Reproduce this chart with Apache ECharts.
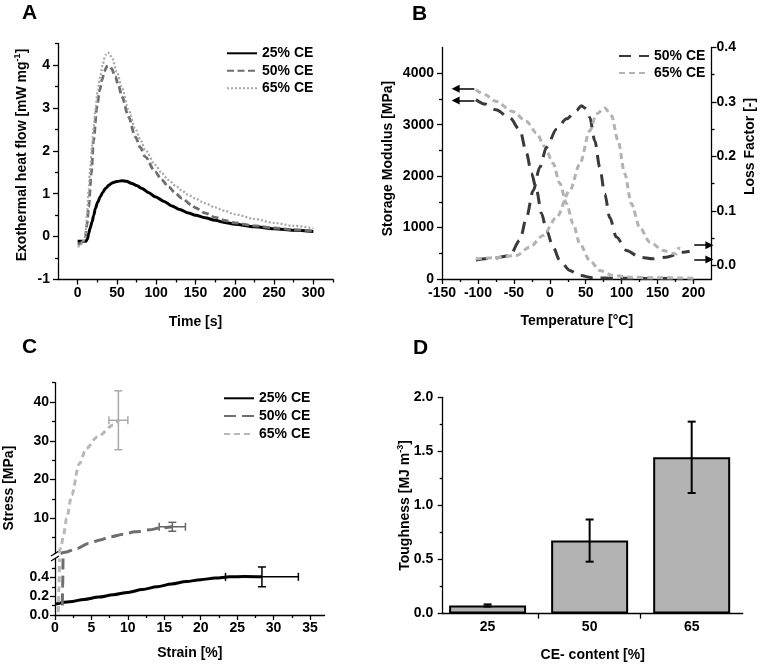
<!DOCTYPE html>
<html><head><meta charset="utf-8">
<script src="https://cdn.jsdelivr.net/npm/echarts@6/dist/echarts.min.js"></script>
<style>html,body{margin:0;padding:0;background:#fff}#c{width:764px;height:666px}</style>
</head><body><div id="c"></div>
<script>
const FONT = "'Liberation Sans', Arial, Helvetica, sans-serif";
const TXT = {color:'#000', fontFamily:FONT, fontWeight:'bold', fontSize:14};

// ---------- Panel A : exothermal heat flow vs time ----------
const aXMajor = [0,50,100,150,200,250,300];
const aXMinor = [25,75,125,175,225,275,325];
const aYMajor = [-1,0,1,2,3,4];
const aYMinor = [-0.5,0.5,1.5,2.5,3.5,4.5];
const a25 = [[0,-0.11],[5,-0.11],[10.6,-0.11],[12.5,-0.05],[14,0.07],[16,0.2],[18.3,0.34],[20.5,0.5],[22.5,0.65],[25.5,0.8],[28.8,0.93],[32,1.03],[35.2,1.12],[40,1.2],[43.7,1.25],[50,1.285],[56.4,1.3],[62,1.29],[69.1,1.24],[75,1.19],[81.9,1.12],[90,1.03],[98.8,0.93],[110,0.82],[120,0.715],[130,0.63],[141,0.55],[150,0.5],[162,0.44],[175,0.38],[187,0.33],[200,0.29],[225,0.23],[250,0.185],[275,0.15],[300,0.12]];
const a50 = [[0,-0.18],[3,-0.17],[6,-0.12],[9.7,-0.05],[12,0.3],[14,0.69],[17.4,1.47],[20.3,2.25],[24.6,3.03],[28,3.4],[31,3.65],[34,3.85],[37.4,3.97],[40,3.98],[43,3.92],[47.9,3.73],[52,3.52],[56.4,3.26],[64.8,2.79],[73.3,2.33],[80,2.07],[86,1.86],[98.8,1.51],[107,1.32],[115.7,1.16],[125,1.0],[132.7,0.89],[145.4,0.73],[150,0.67],[162,0.55],[175,0.45],[187,0.38],[200,0.32],[225,0.25],[250,0.2],[275,0.16],[300,0.13]];
const a65 = [[0,-0.23],[3,-0.22],[6,-0.15],[9.7,0.0],[12,0.5],[14,1.08],[16,1.6],[18.3,2.09],[20.5,2.55],[22.5,2.95],[25.5,3.4],[28.8,3.73],[32,4.02],[35.2,4.23],[38.6,4.29],[41,4.25],[43.7,4.16],[50,3.84],[56.4,3.46],[64.8,2.95],[73.3,2.52],[80,2.25],[86,2.02],[98.8,1.67],[107,1.48],[115.7,1.32],[125,1.18],[132.7,1.07],[140,0.98],[149.5,0.89],[162,0.78],[175,0.68],[187,0.6],[200,0.52],[225,0.41],[250,0.32],[275,0.25],[300,0.19]];

// ---------- Panel B : DMA ----------
const bXMajor = [-150,-100,-50,0,50,100,150,200];
const bXMinor = [-125,-75,-25,25,75,125,175];
const bYLMajor = [0,1000,2000,3000,4000];
const bYLMinor = [500,1500,2500,3500];
const bYRMajor = [0,0.1,0.2,0.3,0.4];
const bYRMinor = [0.05,0.15,0.25,0.35];
const bStorage50 = [[-102.8,3486],[-90,3400],[-75,3290],[-55.6,3130],[-41.7,2900],[-32.4,2445],[-25.5,2055],[-18.5,1730],[-11.5,1273],[-4.6,947],[4.6,620],[13.9,361],[27.8,166],[41.7,68],[60,23],[92.6,16],[130,10],[175,8]];
const bStorage65 = [[-102.8,3682],[-90,3580],[-75,3453],[-51.9,3258],[-32.4,3063],[-18.5,2836],[-7,2574],[4.6,2250],[13.9,1859],[23.2,1469],[32.4,1078],[41.7,688],[55.6,361],[69.5,166],[88,68],[111,35],[150,25],[200,15]];
const bLoss50 = [[-102.8,0.010],[-80,0.013],[-55.6,0.018],[-41.7,0.046],[-32.4,0.088],[-23.2,0.137],[-13.9,0.18],[-4.6,0.217],[9.3,0.25],[23.2,0.269],[37,0.284],[44,0.293],[50,0.288],[55.6,0.272],[62.6,0.229],[69.5,0.18],[76.5,0.131],[83.4,0.088],[92.7,0.052],[106.7,0.0275],[125,0.015],[143.7,0.012],[162,0.015],[185,0.024],[194.6,0.026]];
const bLoss65 = [[-102.8,0.012],[-75,0.014],[-46.4,0.018],[-27.8,0.0335],[-9.3,0.055],[9.3,0.088],[27.8,0.137],[41.7,0.186],[55.6,0.247],[64.9,0.278],[76.5,0.289],[85.8,0.275],[95,0.229],[104.3,0.168],[113.6,0.113],[125,0.07],[139,0.043],[157.6,0.0275],[172,0.022],[176,0.021],[180,0.034]];
const bArrowStorage = [3700, 3470];
const bArrowLoss = [0.037, 0.011];

// ---------- Panel C : stress-strain ----------
const cXMajor = [0,5,10,15,20,25,30,35];
const cXMinor = [2.5,7.5,12.5,17.5,22.5,27.5,32.5];
const cYLowMajor = [0,0.2,0.4];
const cYLowMinor = [0.1,0.3,0.5];
const cYUpMajor = [10,20,30,40];
const cYUpMinor = [5,15,25,35,45];
const c25 = [[0.14,0.117],[2,0.14],[4,0.165],[6,0.19],[8,0.215],[10,0.24],[12,0.27],[14,0.3],[16,0.33],[18,0.355],[20,0.375],[22,0.392],[24,0.405],[26,0.41],[28.4,0.405]];
const c50Low = [[1.0,0.1],[1.05,0.3],[1.1,0.6]];
const c50Up = [[0.75,0.9],[1.4,1.2],[3.0,2.2],[4.6,3.5],[6.2,4.4],[7.6,5.2],[9.4,5.9],[11,6.5],[13,7.0],[14.4,7.5],[16.1,7.8]];
const c65Low = [[0.45,0.03],[0.55,0.3],[0.62,0.6]];
const c65Up = [[0.6,0.9],[0.85,3],[1.14,5.3],[1.6,10],[2.3,16],[3.3,24],[4.3,28],[5.8,31],[8.0,34.1],[8.7,35.3]];
const cErr25 = [[28.4,0.405,5,0.105]];
const cErr50 = [[16.1,7.8,1.8,1.15]];
const cErr65 = [[8.7,35.3,1.3,7.6]];

// ---------- Panel D : toughness ----------
const dCategories = ['25','50','65'];
const dValues = [0.075,0.675,1.445];
const dErrors = [0.01,0.195,0.33];
const dYMajor = [0,0.5,1.0,1.5,2.0];
const dYMinor = [0.25,0.75,1.25,1.75];

const legendLabels = {A25:'25% CE',A50:'50% CE',A65:'65% CE',B50:'50% CE',B65:'65% CE',C25:'25% CE',C50:'50% CE',C65:'65% CE'};

const xAxis = [], yAxis = [];
const AX_LINE = {color:'#000', width:1.3};
function addAxis(list, o) {
  list.push({
    type:'value', gridIndex:o.grid, min:o.min, max:o.max, position:o.pos, show:o.show !== false,
    axisLine:{show:true, onZero:false, lineStyle:AX_LINE},
    axisTick:{show:true, length:5, customValues:o.ticks || o.major, lineStyle:AX_LINE},
    axisLabel:Object.assign({show:true, customValues:o.major, margin:o.margin, lineHeight:16,
      formatter:o.fmt || (v => String(v))}, TXT),
    splitLine:{show:false}, minorTick:{show:false},
    name:o.name || '', nameLocation:'middle', nameGap:o.nameGap || 0, nameMoveOverlap:false,
    nameTextStyle:Object.assign({}, TXT, {lineHeight:16}, o.nameStyle || {}),
    axisPointer:{show:false}
  });
  const idx = list.length - 1;
  if (o.minor && o.show !== false) {
    list.push({type:'value', gridIndex:o.grid, min:o.min, max:o.max, position:o.pos,
      axisLine:{show:false, onZero:false},
      axisTick:{show:true, length:3, customValues:o.minor, lineStyle:AX_LINE},
      axisLabel:{show:false}, splitLine:{show:false}, axisPointer:{show:false}});
  }
  return idx;
}
const f1 = v => v.toFixed(1);
const supRich = {
  s:{fontSize:9, lineHeight:10, verticalAlign:'top', fontWeight:'bold', fontFamily:FONT, color:'#000'}
};

// axes A
const axA = addAxis(xAxis, {grid:0, min:-25, max:325, pos:'bottom', major:aXMajor, minor:aXMinor, margin:5.8, name:'Time [s]', nameGap:34.5});
const ayA = addAxis(yAxis, {grid:0, min:-1, max:4.5, pos:'left', major:aYMajor, minor:aYMinor, margin:8,
  name:'Exothermal heat flow [mW mg{s|-1}]', nameGap:27.3, nameStyle:{lineHeight:18, padding:[0,0,0,13], rich:supRich}});
// axes B
const axB = addAxis(xAxis, {grid:1, min:-150, max:225, pos:'bottom', major:bXMajor, minor:bXMinor, margin:6.3, name:'Temperature [°C]', nameGap:34.4});
const ayBL = addAxis(yAxis, {grid:1, min:0, max:4500, pos:'left', major:bYLMajor, minor:bYLMinor, margin:8,
  name:'Storage Modulus [MPa]', nameGap:45.7, nameStyle:{padding:[0,0,0,9.5]}});
const ayBR = addAxis(yAxis, {grid:1, min:-0.025, max:0.4, pos:'right', major:bYRMajor, minor:bYRMinor, margin:5, fmt:f1,
  name:'Loss Factor [-]', nameGap:30.5, nameStyle:{padding:[0,0,0,33.5]}});
// axes C
const axCU = addAxis(xAxis, {grid:2, min:0, max:37, pos:'bottom', major:cXMajor, show:false});
const ayCU = addAxis(yAxis, {grid:2, min:0.9, max:45, pos:'left', major:cYUpMajor, minor:cYUpMinor, margin:6,
  name:'Stress [MPa]', nameGap:37.8, nameStyle:{padding:[0,40,0,0]}});
const axCL = addAxis(xAxis, {grid:3, min:0, max:37, pos:'bottom', major:cXMajor, minor:cXMinor, margin:5.3, name:'Strain [%]', nameGap:29.7});
const ayCL = addAxis(yAxis, {grid:3, min:0, max:0.6, pos:'left', major:cYLowMajor, minor:cYLowMinor, margin:6, fmt:f1});
// axes D
const axD = addAxis(xAxis, {grid:4, min:0.56, max:3.5, pos:'bottom', major:[1,2,3], ticks:[1.5,2.5], margin:5.7,
  fmt:v => dCategories[Math.round(v) - 1], name:'CE- content [%]', nameGap:33.4});
const ayD = addAxis(yAxis, {grid:4, min:0, max:2, pos:'left', major:dYMajor, minor:dYMinor, margin:9.5, fmt:f1,
  name:'Toughness [MJ m{s|-3}]', nameGap:28.7, nameStyle:{lineHeight:18, rich:supRich}});

function line(name, xi, yi, data, color, width, type, extra) {
  return Object.assign({type:'line', name, xAxisIndex:xi, yAxisIndex:yi, data, symbol:'none',
    smooth:0.3, smoothMonotone:'x', silent:true,
    lineStyle:{color, width, type, cap:'butt'}, itemStyle:{color}}, extra || {});
}
function errBars(name, xi, yi, data, color, width, cap) {
  return {type:'custom', name, xAxisIndex:xi, yAxisIndex:yi, data, silent:true, z:5,
    renderItem(params, api) {
      const x = api.value(0), y = api.value(1), ex = api.value(2), ey = api.value(3);
      const st = {stroke:color, lineWidth:width, fill:null};
      const ch = [];
      const L = (x1,y1,x2,y2) => ch.push({type:'line', shape:{x1,y1,x2,y2}, style:st});
      if (ey) {
        const t = api.coord([x, y + ey]), b = api.coord([x, y - ey]);
        L(t[0], t[1], b[0], b[1]); L(t[0]-cap, t[1], t[0]+cap, t[1]); L(b[0]-cap, b[1], b[0]+cap, b[1]);
      }
      if (ex) {
        const l = api.coord([x - ex, y]), r = api.coord([x + ex, y]);
        L(l[0], l[1], r[0], r[1]); L(l[0], l[1]-cap, l[0], l[1]+cap); L(r[0], r[1]-cap, r[0], r[1]+cap);
      }
      return {type:'group', children:ch};
    }};
}
const arrowML = (vals, x1, x2) => ({silent:true, symbol:['none','triangle'], symbolSize:8,
  itemStyle:{color:'#000'},
  lineStyle:{color:'#000', width:1.5, type:'solid'}, label:{show:false}, animation:false,
  data:vals.map(v => [{coord:[x1, v]}, {coord:[x2, v]}])});

const series = [
  line('A25', axA, ayA, a25, '#000', 3, 'solid'),
  line('A50', axA, ayA, a50, '#6e6e6e', 2.8, [7,3.5]),
  line('A65', axA, ayA, a65, '#a8a8a8', 2.2, [2,2]),

  line('B50', axB, ayBL, bStorage50, '#3a3a3a', 3, [12,8], {markLine:arrowML(bArrowStorage, -105, -131)}),
  line('B65', axB, ayBL, bStorage65, '#b3b3b3', 3, [6,4]),
  line('B50', axB, ayBR, bLoss50, '#3a3a3a', 3, [12,8], {markLine:arrowML(bArrowLoss, 201, 222)}),
  line('B65', axB, ayBR, bLoss65, '#b3b3b3', 3, [6,4]),

  line('C25', axCL, ayCL, c25, '#000', 3, 'solid'),
  line('C50', axCU, ayCU, c50Up, '#6e6e6e', 3, [12,6]),
  line('C50', axCL, ayCL, c50Low, '#6e6e6e', 3, [12,6]),
  line('C65', axCU, ayCU, c65Up, '#b8b8b8', 3, [6,4]),
  line('C65', axCL, ayCL, c65Low, '#b8b8b8', 3, [6,4]),
  errBars('eC25', axCL, ayCL, cErr25, '#000', 1.5, 4),
  errBars('eC50', axCU, ayCU, cErr50, '#666', 1.5, 4),
  errBars('eC65', axCU, ayCU, cErr65, '#aaa', 1.5, 4),

  {type:'bar', name:'D', xAxisIndex:axD, yAxisIndex:ayD, barWidth:77, silent:true,
   data:dCategories.map((c, i) => [i + 1, dValues[i]]),
   itemStyle:{color:'#b3b3b3', borderColor:'#000', borderWidth:2}},
  errBars('eD', axD, ayD, dCategories.map((c, i) => [i + 1, dValues[i], 0, dErrors[i]]), '#000', 2, 4)
];

function legend(names, left, top, gap) {
  return {data:names, left, top, orient:'vertical', padding:0, itemWidth:30, itemHeight:14, itemGap:gap,
    selectedMode:false, formatter:n => legendLabels[n], itemStyle:{opacity:0},
    textStyle:Object.assign({}, TXT, {lineHeight:14})};
}

const letter = (t, x, y) => ({type:'text', x, y, silent:true,
  style:{text:t, align:'center', verticalAlign:'middle', font:'bold 21px ' + FONT, fill:'#000'}});
const seg = (x1,y1,x2,y2) => ({type:'line', silent:true, shape:{x1,y1,x2,y2}, style:{stroke:'#000', lineWidth:1.3}});

const option = {
  animation:false,
  backgroundColor:'#fff',
  grid:[
    {left:58, top:43.5, width:275, height:236, outerBoundsMode:'none'},
    {left:442, top:47.5, width:269.5, height:231.5, outerBoundsMode:'none'},
    {left:55, top:382.7, width:269.6, height:170.8, outerBoundsMode:'none'},
    {left:55, top:558.5, width:269.6, height:56.5, outerBoundsMode:'none'},
    {left:442.7, top:397.3, width:300, height:216.3, outerBoundsMode:'none'}
  ],
  xAxis, yAxis, series,
  legend:[
    legend(['A25','A50','A65'], 226, 46.3, 3.5),
    legend(['B50','B65'], 618, 49, 3),
    legend(['C25','C50','C65'], 223, 391.3, 3.8)
  ],
  graphic:[
    letter('A', 29.5, 13), letter('B', 419.5, 14), letter('C', 29.5, 347.5), letter('D', 420.5, 348),
    seg(51, 556, 59, 551), seg(51, 561, 59, 556)
  ]
};
const chart = echarts.init(document.getElementById('c'), null, {renderer:'canvas'});
chart.setOption(option);
</script></body></html>
